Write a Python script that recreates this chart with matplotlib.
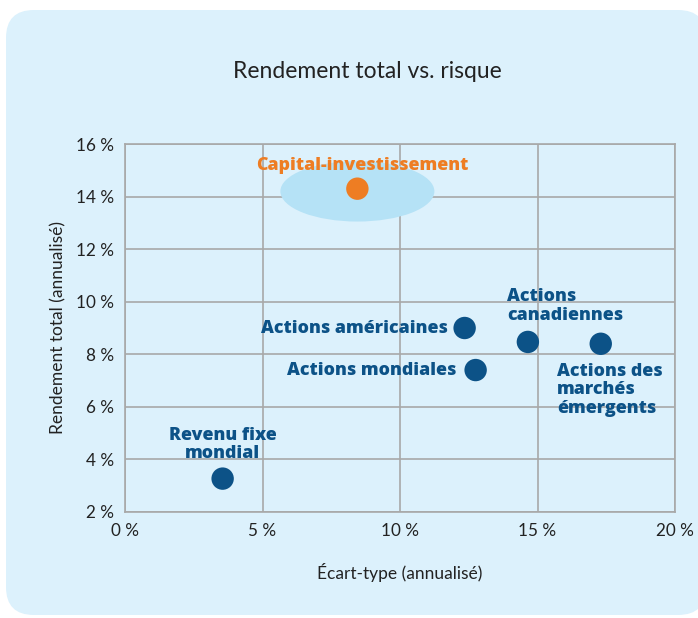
import matplotlib
matplotlib.use("Agg")
import matplotlib.pyplot as plt
from matplotlib.patches import FancyBboxPatch, Ellipse
from matplotlib.ticker import FuncFormatter

# ---- data ----
labels = ["Capital-investissement", "Actions américaines", "Actions mondiales",
          "Actions\ncanadiennes", "Actions des\nmarchés\némergents", "Revenu fixe\nmondial"]
risk = [8.45, 12.35, 12.75, 14.65, 17.3, 3.55]        # écart-type (%)
ret = [14.3, 9.0, 7.4, 8.47, 8.4, 3.27]               # rendement total (%)
x_ticks = [0, 5, 10, 15, 20]
y_ticks = [2, 4, 6, 8, 10, 12, 14, 16]
title = "Rendement total vs. risque"
xlabel = "Écart-type (annualisé)"
ylabel = "Rendement total (annualisé)"

# ---- styles ----
BG = "#dcf1fc"
BLUE = "#0c5287"
ORANGE = "#ee7d23"
GRID = "#a8a8a8"
TXT = "#222222"
point_colors = [ORANGE, BLUE, BLUE, BLUE, BLUE, BLUE]
label_offsets = [(5, 23), (-17, 0), (-19, 0), (-21, 36), (-44, -46), (0, 34)]
label_ha = ["center", "right", "right", "left", "left", "center"]

plt.rcParams["font.family"] = ["Lato", "DejaVu Sans"]

fig = plt.figure(figsize=(6.98, 6.18), dpi=100)
fig.patch.set_facecolor("white")
bg = FancyBboxPatch((6 / 698, 3 / 618), 700 / 698, 605 / 618,
                    boxstyle="round,pad=0,rounding_size=0.04",
                    transform=fig.transFigure, facecolor=BG, edgecolor="none",
                    zorder=-10, mutation_aspect=698 / 618)
fig.patches.append(bg)

ax = fig.add_axes([125 / 698, 1 - 512 / 618, 550 / 698, 368 / 618])
ax.set_zorder(1)
ax.set_facecolor(BG)
ax.set_xlim(0, 20)
ax.set_ylim(2, 16)
ax.set_xticks(x_ticks)
ax.set_yticks(y_ticks)
pct = FuncFormatter(lambda v, p: f"{v:.0f} %")
ax.xaxis.set_major_formatter(pct)
ax.yaxis.set_major_formatter(pct)
ax.tick_params(length=0, labelsize=12.3, colors=TXT, pad=8)
ax.grid(True, color=GRID, linewidth=1.2, zorder=1)
ax.set_axisbelow(True)
for s in ax.spines.values():
    s.set_color(GRID)
    s.set_linewidth(1.2)

# highlight ellipse around private equity
ax.add_patch(Ellipse((risk[0], ret[0] - 0.1), 5.6, 2.3, facecolor="#b5e2f6",
                     edgecolor="none", zorder=2))

ax.scatter(risk, ret, s=260, c=point_colors, zorder=3, linewidths=0)

for i, lab in enumerate(labels):
    ax.annotate(lab, (risk[i], ret[i]), xytext=label_offsets[i],
                textcoords="offset pixels", ha=label_ha[i], va="center",
                multialignment=label_ha[i],
                color=point_colors[i], fontsize=12.8, fontweight="heavy",
                family=["Open Sans", "DejaVu Sans"],
                linespacing=1.12, zorder=4)

fig.text(367 / 698, 1 - 72 / 618, title, ha="center", va="center",
         fontsize=16.5, color=TXT)
ax.set_xlabel(xlabel, fontsize=12.5, color=TXT, labelpad=17)
ax.set_ylabel(ylabel, fontsize=12.5, color=TXT, labelpad=7)

fig.savefig("out.png", dpi=100, facecolor="white")
